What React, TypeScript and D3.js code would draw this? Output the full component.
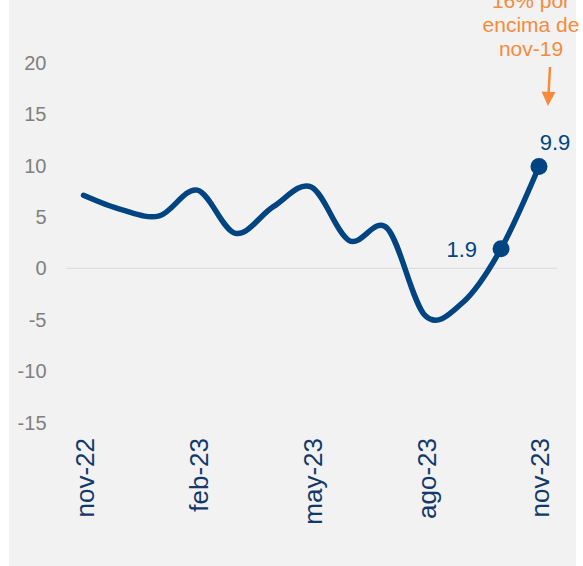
import React from "react";
import * as d3 from "d3";

const months = ["nov-22","dic-22","ene-23","feb-23","mar-23","abr-23","may-23","jun-23","jul-23","ago-23","sep-23","oct-23","nov-23"];
const values = [7.1, 5.7, 5.1, 7.6, 3.4, 6.0, 7.9, 2.7, 3.9, -4.6, -3.3, 1.9, 9.9];
const xTickLabels = ["nov-22","feb-23","may-23","ago-23","nov-23"];
const yTicks = [20, 15, 10, 5, 0, -5, -10, -15];
const markedMonths = ["oct-23", "nov-23"];
const annotationLines = ["16% por", "encima de", "nov-19"];

const W = 583, H = 566;
const FONT = "'Liberation Sans', Arial, Helvetica, sans-serif";
const BLUE = "#004481";
const ORANGE = "#f68b3c";

export default function App() {
  const x = d3.scalePoint<string>().domain(months).range([83.5, 539]);
  const y = d3.scaleLinear().domain([-15, 20]).range([422.5, 62.7]);
  const data = months.map((m, i) => ({ m, v: values[i] }));
  const line = d3.line<{ m: string; v: number }>()
    .x(d => x(d.m) as number)
    .y(d => y(d.v))
    .curve(d3.curveCardinal.tension(0));

  const last = data[data.length - 1];
  const oct = data[data.length - 2];

  return (
    <svg width={W} height={H} style={{ position: "absolute", left: 0, top: 0, display: "block" }} fontFamily={FONT}>
      <rect x={9} y={0} width={567} height={566} fill="#f2f2f2" />
      {/* zero line */}
      <line x1={66} x2={557} y1={y(0)} y2={y(0)} stroke="#d9d9d9" strokeWidth={1} />
      {/* y labels */}
      {yTicks.map(t => (
        <text key={t} x={46.5} y={y(t)} dy="0.35em" textAnchor="end" fontSize={20} fill="#808080">{t}</text>
      ))}
      {/* x labels */}
      {xTickLabels.map(l => {
        const px = x(l) as number;
        return (
          <text key={l} transform={`translate(${px + 1},438) rotate(-90)`} dy="0.36em" textAnchor="end" fontSize={26} fill="#12396a">{l}</text>
        );
      })}
      {/* line */}
      <path d={line(data) || ""} fill="none" stroke={BLUE} strokeWidth={5.5} strokeLinecap="round" strokeLinejoin="round" />
      {data.filter(d => markedMonths.includes(d.m)).map(d => (
        <circle key={d.m} cx={x(d.m) as number} cy={y(d.v)} r={8.5} fill={BLUE} />
      ))}
      <text x={(x(oct.m) as number) - 24} y={y(oct.v) + 8} textAnchor="end" fontSize={22} fill={BLUE}>{oct.v.toFixed(1)}</text>
      <text x={(x(last.m) as number) + 16} y={150} textAnchor="middle" fontSize={22} fill={BLUE}>{last.v.toFixed(1)}</text>
      {/* annotation */}
      {annotationLines.map((t, i) => (
        <text key={t} x={531} y={8 + i * 24} textAnchor="middle" fontSize={21} fill={ORANGE}>{t}</text>
      ))}
      <line x1={550} y1={67} x2={548.6} y2={93} stroke={ORANGE} strokeWidth={2.5} />
      <path d="M541.5,91.5 L555.5,92 L548,106 Z" fill={ORANGE} />
    </svg>
  );
}
